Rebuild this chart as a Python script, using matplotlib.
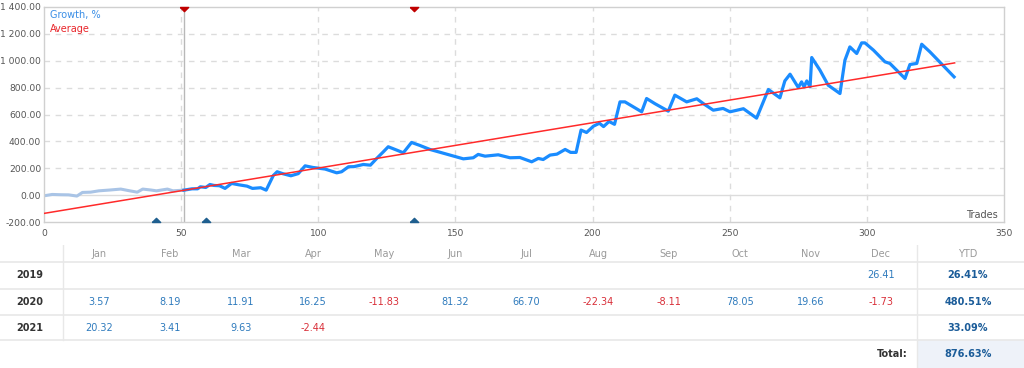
import matplotlib
matplotlib.use('Agg')
import matplotlib.pyplot as plt
import numpy as np

# growth curve, trades 0..51 (before the start marker, pale)
pre_trades = [0, 3, 6, 9, 12, 14, 17, 20, 24, 28, 31, 34, 36, 39, 41, 45, 47, 51]
pre_growth = [-5, 5, 3, 2, -7, 20, 22, 32, 38, 45, 33, 22, 45, 38, 32, 45, 32, 37]

# growth curve after trade 51
trades = [51, 54, 56, 57, 59, 60.5, 62, 64, 66, 68.4, 71, 74, 76, 79, 81, 83.6, 85, 87, 90,
          92.7, 95.2, 98, 102.5, 106.7, 108.5, 111, 113, 116.4, 119, 121.3, 123.7, 125.5,
          128.6, 131, 134, 137, 140.7, 152.9, 156.5, 158.3, 160.8, 163.2, 165.6, 169.9,
          173.5, 177.8, 180.2, 182, 184.5, 187, 190, 192, 194, 195.8, 197.8, 200.3, 202.5,
          204, 206, 208, 210, 211.8, 217.9, 219.7, 222.7, 227.6, 230, 234.3, 238, 240.4,
          244, 247.6, 250.1, 255, 259.8, 264.1, 268.3, 270.1, 272, 275, 276.2, 277.1,
          278.1, 279.3, 279.9, 282.9, 285.9, 290.2, 292, 293.8, 296.3, 298.1, 299.3,
          302.4, 306.6, 308.4, 313.9, 315.7, 318.2, 320, 323, 331.8]
growth = [37, 47, 47, 62, 57, 79, 72, 70, 50, 87, 77, 67, 50, 55, 37, 146, 174, 160, 144,
          160, 218, 206, 194, 166, 174, 211, 212, 228, 223, 273, 322, 360,
          335, 315, 392, 370, 340, 270, 278, 303, 290, 295, 300, 278,
          280, 248, 273, 265, 298, 305, 340, 318, 318, 484, 466, 513, 535,
          510, 548, 527, 694, 694, 620, 719, 681, 625, 744, 694, 717, 681,
          632, 645, 620, 643, 573, 786, 724, 850, 900, 801, 843, 806,
          850, 806, 1024, 930, 818, 756, 1004, 1103, 1054, 1133, 1133,
          1079, 992, 980, 868, 972, 980, 1123, 1066, 880]

# average line end points
avg_x = [0, 332]
avg_y = [-136, 984]

# markers
start_trade = 51
top_marks = [51, 135]
bottom_marks = [41, 59, 135]

# monthly table
months = ['Jan', 'Feb', 'Mar', 'Apr', 'May', 'Jun', 'Jul', 'Aug', 'Sep', 'Oct', 'Nov', 'Dec']
years = ['2019', '2020', '2021']
monthly = {
    '2019': [None] * 11 + [26.41],
    '2020': [3.57, 8.19, 11.91, 16.25, -11.83, 81.32, 66.70, -22.34, -8.11, 78.05, 19.66, -1.73],
    '2021': [20.32, 3.41, 9.63, -2.44] + [None] * 8,
}
ytd = ['26.41%', '480.51%', '33.09%']
total = '876.63%'

fig = plt.figure(figsize=(10.24, 3.68), dpi=100)
ax = fig.add_axes([44 / 1024, 1 - 222 / 368, 960 / 1024, 215 / 368])

ax.set_xlim(0, 350)
ax.set_ylim(-200, 1400)
ax.set_xticks(np.arange(0, 351, 50))
ax.set_yticks(np.arange(-200, 1401, 200))
ax.set_yticklabels([f'{v:,.2f}'.replace(',', ' ') for v in np.arange(-200, 1401, 200)])
ax.tick_params(length=0, labelsize=6.6, colors='#555555')
ax.tick_params(axis='y', pad=2)
ax.tick_params(axis='x', pad=5)

for s in ax.spines.values():
    s.set_color('#d0d0d0')
    s.set_linewidth(1)

for x in range(50, 350, 50):
    ax.axvline(x, color='#dcdcdc', lw=1, ls=(0, (4, 4)), zorder=0)
for y in range(200, 1400, 200):
    ax.axhline(y, color='#dcdcdc', lw=1, ls=(0, (4, 4)), zorder=0)
ax.axhline(0, color='#dcdcdc', lw=1, zorder=0)
ax.axvline(start_trade, color='#b8b8b8', lw=1, zorder=1)

ax.plot(pre_trades, pre_growth, color='#a9c4e6', lw=2.2, zorder=2)
ax.plot(trades, growth, color='#1a8cff', lw=2.3, zorder=3, solid_joinstyle='round')
ax.plot(avg_x, avg_y, color='#ff2a2a', lw=1.1, zorder=4)

tri_down = [(-1, 0), (1, 0), (0, -1), (-1, 0)]
tri_up = [(-1, 0), (1, 0), (0, 1), (-1, 0)]
ax.plot(top_marks, [1400] * len(top_marks), ls='none', marker=tri_down,
        color='#c00000', ms=6, zorder=5, clip_on=False)
ax.plot(bottom_marks, [-200] * len(bottom_marks), ls='none', marker=tri_up,
        color='#1f5f8f', ms=6, zorder=5, clip_on=False)

ax.text(2.2, 1340, 'Growth, %', color='#3a8ee6', fontsize=7, va='center')
ax.text(2.2, 1235, 'Average', color='#e8262b', fontsize=7, va='center')
ax.text(347.8, -150, 'Trades', color='#555555', fontsize=7, ha='right', va='center')

# table area in pixel coordinates
tax = fig.add_axes([0, 0, 1, 123 / 368])
tax.set_xlim(0, 1024)
tax.set_ylim(368, 245)
tax.axis('off')

col_x = [99, 170, 241, 313, 384, 455, 526, 598, 669, 740, 811, 881]
row_y = [275, 302, 328]

tax.fill_between([917, 1024], 340, 368, color='#eef2f9', lw=0)
for y in [262, 289, 315.5, 340]:
    tax.plot([0, 1024], [y, y], color='#e8e8e8', lw=1.2)
tax.plot([63, 63], [245, 340], color='#e8e8e8', lw=1)
tax.plot([917, 917], [245, 368], color='#e8e8e8', lw=1)

for m, x in zip(months, col_x):
    tax.text(x, 254, m, color='#9a9a9a', fontsize=7, ha='center', va='center')
tax.text(968, 254, 'YTD', color='#9a9a9a', fontsize=7, ha='center', va='center')

for yr, y, yt in zip(years, row_y, ytd):
    tax.text(30, y, yr, color='#333333', fontsize=7, fontweight='bold', ha='center', va='center')
    for v, x in zip(monthly[yr], col_x):
        if v is None:
            continue
        c = '#d9303a' if v < 0 else '#2f7bbd'
        tax.text(x, y, f'{v:.2f}', color=c, fontsize=7, ha='center', va='center')
    tax.text(968, y, yt, color='#1b5c99', fontsize=7, fontweight='bold', ha='center', va='center')

tax.text(908, 354, 'Total:', color='#333333', fontsize=7, fontweight='bold', ha='right', va='center')
tax.text(968, 354, total, color='#1b5c99', fontsize=7, fontweight='bold', ha='center', va='center')

fig.savefig('out.png', dpi=100)
